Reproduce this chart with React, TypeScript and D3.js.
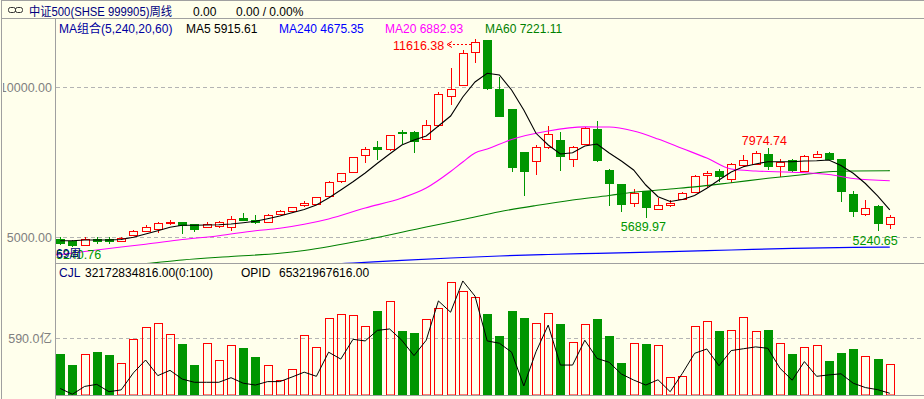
import React from 'react';
import * as d3 from 'd3';

// ---- data (weekly candles, CSI 500) ----
const opens = [4933,4867,4733,4953,4953,4887,5067,5220,5287,5467,5500,5433,5333,5377,5333,5643,5567,5510,5777,5887,6067,6110,6377,6867,7177,7733,8000,7953,8520,8510,8287,8733,9710,10067,11177,11560,9933,9267,7843,7553,8020,8243,7600,8110,8600,7243,6777,6153,6553,5953,6087,6287,6510,7067,7200,6933,7400,7443,7777,7377,7577,7200,7687,7800,7600,6443,5777,6043,5443];
const closes = [4820,4753,4953,4887,4887,4977,5220,5333,5467,5520,5400,5287,5433,5510,5620,5577,5520,5753,5887,6000,6153,6333,6843,7133,7667,7953,7953,8400,8467,8200,8733,9777,9953,11133,11510,9977,9043,7333,7220,8000,8443,7710,8000,8643,7577,6820,6110,6487,6020,6087,6133,6467,7043,7153,7043,7443,7577,7820,7377,7510,7243,7710,7777,7620,6553,5867,5977,5467,5667];
const highs = [5000,4910,5000,5020,5020,5020,5243,5420,5510,5577,5500,5433,5510,5533,5710,5800,5733,5777,5910,6020,6200,6353,6867,7153,7677,8000,8200,8420,8577,8553,8910,9843,10643,11243,11616.38,11580,10353,9267,7843,8077,8710,8510,8043,8687,8887,7287,6777,6600,6553,6310,6243,6510,7067,7200,7287,7467,7753,7867,7974.74,7620,7620,7733,7887,7843,7620,6533,6243,6067,5733];
const lows = [4777,4710,4733,4820,4810,4867,5043,5177,5133,5420,5153,5220,5300,5310,5220,5577,5467,5467,5753,5867,6020,6087,6353,6800,7177,7467,7600,7887,8153,7843,8243,8687,9420,10067,10820,9953,9030,7220,6420,7067,7933,7243,7353,8067,7553,6087,5867,6000,5689.97,5933,6000,6267,6487,6667,6887,6800,7353,7420,7287,7020,7200,7177,7643,7600,6200,5710,5710,5240.65,5287];
// volume, 亿
const volumes = [427,312,424,447,416,330,580,708,746,632,531,312,538,361,520,489,395,312,153,267,621,496,798,840,829,718,874,975,666,645,788,905,1173,1082,1017,843,614,874,801,746,850,739,548,736,791,614,333,538,531,517,184,195,718,767,666,673,809,663,676,538,427,496,517,354,437,479,403,375,321.7];
// OPID line, 亿
const opid = [674,649,683,692,660,668,742,798,730,753,715,701,701,701,721,697,689,704,704,724,745,727,832,802,888,881,927,933,884,817,884,1055,1006,1142,1076,881,871,832,685,834,950,776,776,884,805,788,737,711,689,712,660,740,827,846,773,839,847,855,849,762,710,791,727,733,738,697,678,669,653.2];
const ma5 = [4887,4887,4910,4910,4910,4927,5000,5110,5220,5333,5400,5400,5410,5420,5443,5487,5533,5620,5710,5820,5927,6077,6310,6577,6853,7143,7467,7777,8077,8243,8377,8710,9043,9677,10177,10467,10410,9910,9243,8467,8077,7777,7820,8043,8110,7810,7543,7243,6743,6353,6193,6260,6393,6633,6910,7177,7353,7443,7520,7520,7520,7543,7553,7577,7393,7133,6793,6377,5915.61];
const ma20Idx = [-1,0,2,5,7,10,13,16,18,20,22,25,28,30,32,33,34,35,37,40,43,45,47,49,51,53,55,57,60,63,65,68];
const ma20Val = [4400,4427,4527,4677,4770,4927,5053,5220,5300,5433,5610,5977,6310,6643,7193,7510,7810,7943,8260,8543,8680,8677,8543,8277,7960,7643,7277,7210,7170,7093,6960,6882.93];
const ma60Idx = [6,7,10,14,18,20,25,30,33,36,39,42,45,47,50,52,55,58,61,63,65,68];
const ma60Val = [4090,4123,4243,4360,4467,4560,4910,5343,5593,5853,6060,6243,6393,6503,6610,6680,6820,6967,7093,7183,7210,7221.11];
const ma240Idx = [22,24,28,32,36,40,44,50,55,60,65,68];
const ma240Val = [4100,4143,4233,4310,4377,4427,4467,4520,4577,4633,4663,4675.35];
const priceTicks = [5000, 10000];
const volTicks = [590];

const BG = '#FFFFEC';
const RED = '#FF0000';
const GREEN = '#009600';
const GRID = '#b4b4b4';
const FRAME = '#a0a0a0';
const FONT = "'Liberation Sans', 'Noto Sans CJK SC', sans-serif";

export default function App() {
  const x = d3.scaleLinear().domain([0, 68]).range([60.2, 889.8]);
  const yP = d3.scaleLinear().domain([5000, 10000]).range([237.3, 87.3]);
  const yV = d3.scaleLinear().domain([0, 590]).range([395, 338.3]);
  const yO = d3.scaleLinear().domain([600, 1100]).range([405.5, 290.6]);

  const lineIdx = (ys: number[]) =>
    d3.line<number>().x((_, i) => x(i)).y((d) => ys === ys ? d : d);

  const ma5Path = d3.line<number>().x((_, i) => x(i)).y((d) => yP(d))(ma5) || '';
  const sparse = (idx: number[], vals: number[]) =>
    d3.line<number>().x((d) => x(d)).y((_, k) => yP(vals[k])).curve(d3.curveMonotoneX)(idx) || '';
  const ma20Path = sparse(ma20Idx, ma20Val);
  const ma60Path = sparse(ma60Idx, ma60Val);
  const ma240Path = sparse(ma240Idx, ma240Val);
  const opidPath = d3.line<number>().x((_, i) => x(i)).y((d) => yO(d))(opid) || '';
  void lineIdx;

  const candles = opens.map((o, i) => {
    const c = Math.round(x(i));
    const cl = closes[i];
    const up = cl > o;
    const yH = Math.round(yP(highs[i]));
    const yL = Math.round(yP(lows[i]));
    const yTop = Math.round(yP(Math.max(o, cl)));
    const yBot = Math.round(yP(Math.min(o, cl)));
    if (up) {
      return (
        <g key={i}>
          {yH < yTop && <line x1={c + 0.5} x2={c + 0.5} y1={yH} y2={yTop} stroke={RED} />}
          {yBot < yL && <line x1={c + 0.5} x2={c + 0.5} y1={yBot} y2={yL} stroke={RED} />}
          <rect x={c - 3.5} y={yTop + 0.5} width={8} height={Math.max(1, yBot - yTop)} fill={BG} stroke={RED} />
        </g>
      );
    }
    return (
      <g key={i}>
        <line x1={c + 0.5} x2={c + 0.5} y1={yH} y2={yL + 1} stroke={GREEN} />
        <rect x={c - 4} y={yTop} width={9} height={Math.max(2, yBot - yTop + 1)} fill={GREEN} />
      </g>
    );
  });

  const vbars = volumes.map((v, i) => {
    const c = Math.round(x(i));
    const up = closes[i] > opens[i];
    const top = Math.round(yV(v));
    if (up) {
      return <rect key={i} x={c - 3.5} y={top + 0.5} width={8} height={395 - top - 0.5} fill="none" stroke={RED} />;
    }
    return <rect key={i} x={c - 4} y={top} width={9} height={395 - top} fill={GREEN} />;
  });

  const xHi = x(34);
  const xLo1 = x(48);
  const xHi2 = x(58);
  const xLo2 = x(67);

  return (
    <svg width={924} height={399} style={{ position: 'fixed', left: 0, top: 0, background: BG }} fontFamily={FONT} fontSize={12}>
      <defs>
        <clipPath id="pclip"><rect x={56} y={19} width={868} height={244} /></clipPath>
        <clipPath id="vclip"><rect x={56} y={264} width={868} height={131} /></clipPath>
        <clipPath id="lclip"><rect x={3} y={19} width={52} height={380} /></clipPath>
      </defs>
      <rect x={0} y={0} width={924} height={399} fill={BG} />

      {/* frame */}
      <line x1={1.5} x2={1.5} y1={0} y2={399} stroke={FRAME} />
      <line x1={1.5} x2={924} y1={0.5} y2={0.5} stroke={FRAME} />
      <line x1={1.5} x2={924} y1={18.5} y2={18.5} stroke={FRAME} />
      <line x1={55.5} x2={55.5} y1={18.5} y2={399} stroke={FRAME} />
      <line x1={55.5} x2={924} y1={263.5} y2={263.5} stroke={FRAME} />
      <line x1={55.5} x2={924} y1={395.5} y2={395.5} stroke={FRAME} />

      {/* header */}
      <g stroke="#333" fill="none">
        <rect x={8.5} y={7.5} width={7} height={5} rx={2} />
        <rect x={15.5} y={7.5} width={7} height={5} rx={2} />
      </g>
      <text x={29} y={15.5} fill="#000080" textLength={143} lengthAdjust="spacingAndGlyphs">中证500(SHSE 999905)周线</text>
      <text x={193} y={15.5} fill="#000">0.00</text>
      <text x={236} y={15.5} fill="#000">0.00 / 0.00%</text>

      {/* price grid */}
      {priceTicks.map((t) => (
        <g key={t}>
          <line x1={56} x2={924} y1={Math.round(yP(t)) + 0.5} y2={Math.round(yP(t)) + 0.5} stroke={GRID} strokeDasharray="4 3" />
          <text x={52} y={yP(t) + 4.5} textAnchor="end" fill="#808080" fontSize={12.5} clipPath="url(#lclip)">{d3.format('.2f')(t)}</text>
        </g>
      ))}
      {volTicks.map((t) => (
        <g key={t}>
          <line x1={56} x2={924} y1={Math.round(yV(t)) + 0.5} y2={Math.round(yV(t)) + 0.5} stroke={GRID} strokeDasharray="4 3" />
          <text x={52} y={yV(t) + 4.5} textAnchor="end" fill="#808080" fontSize={12.5}>{d3.format('.1f')(t)}亿</text>
        </g>
      ))}

      {/* price panel */}
      <g clipPath="url(#pclip)">
        {candles}
        <path d={ma240Path} fill="none" stroke="#0000FF" strokeWidth={1.2} />
        <path d={ma60Path} fill="none" stroke="#008000" strokeWidth={1.1} />
        <path d={ma20Path} fill="none" stroke="#FF00FF" strokeWidth={1.1} />
        <path d={ma5Path} fill="none" stroke="#000" strokeWidth={1.1} />
        <text x={56} y={258.5} fill={GREEN} fontSize={12.5}>5240.76</text>
        <text x={56} y={257.5} fill="#000080" fontSize={12}>69周</text>
      </g>

      {/* MA legend row */}
      <text x={59} y={33} fill="#0000A0">MA组合(5,240,20,60)</text>
      <text x={186} y={33} fill="#000">MA5 5915.61</text>
      <text x={279} y={33} fill="#0000FF">MA240 4675.35</text>
      <text x={385} y={33} fill="#FF00FF">MA20 6882.93</text>
      <text x={485} y={33} fill="#008000">MA60 7221.11</text>

      {/* annotations */}
      <text x={xHi - 82} y={50} fill={RED} fontSize={12.5}>{d3.format('.2f')(highs[34])}</text>
      <line x1={xHi - 26} x2={xHi - 4} y1={44.5} y2={44.5} stroke={RED} strokeDasharray="2 2" />
      <path d={`M${xHi - 28},44.5 L${xHi - 23},41.5 M${xHi - 28},44.5 L${xHi - 23},47.5`} stroke={RED} fill="none" />
      <text x={xHi2 - 26} y={144.5} fill={RED} fontSize={12.5}>{d3.format('.2f')(highs[58])}</text>
      <text x={xLo1 - 25} y={231} fill={GREEN} fontSize={12.5}>{d3.format('.2f')(lows[48])}</text>
      <text x={xLo2 - 25} y={244.5} fill={GREEN} fontSize={12.5}>{d3.format('.2f')(lows[67])}</text>

      {/* volume panel */}
      <text x={59} y={277} fill="#000080">CJL</text>
      <text x={85} y={277} fill="#000">32172834816.00(0:100)</text>
      <text x={241} y={277} fill="#000">OPID</text>
      <text x={279} y={277} fill="#000">65321967616.00</text>
      <g clipPath="url(#vclip)">
        {vbars}
        <path d={opidPath} fill="none" stroke="#000" strokeWidth={1} />
      </g>
    </svg>
  );
}
